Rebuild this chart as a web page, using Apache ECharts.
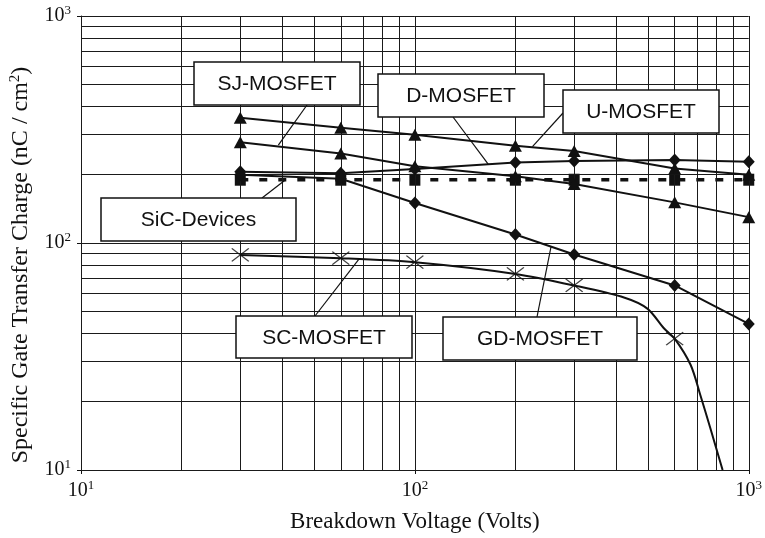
<!DOCTYPE html>
<html>
<head>
<meta charset="utf-8">
<script src="https://cdn.jsdelivr.net/npm/echarts@6/dist/echarts.min.js"></script>
<style>
  html, body { margin: 0; padding: 0; background: #fff; }
  #main { width: 765px; height: 538px; }
</style>
</head>
<body>
<div id="main"></div>
<script>
// breakdown voltages where the devices were compared
const voltages = [30, 60, 100, 200, 300, 600, 1000];
const uMosfet = [356, 322, 300, 268, 254, 213, 200];
const sjMosfet = [278, 248, 218, 197, 182, 151, 130];
const dMosfet = [206, 203, 212, 226, 230, 232, 228];
const gdMosfet = [200, 192, 150, 109, 89, 65, 44];
const sicDevices = [190, 190, 190, 190, 190, 190, 190];

// SC-MOSFET: X marks and the curve that runs through them
const scMarkV = [30, 60, 100, 200, 300, 600];
const scMarkQ = [88.6, 85.7, 82.3, 73.1, 65, 37.9];
const scCurveV = [30, 60, 100, 200, 300, 425, 497, 558, 600, 670, 716, 767, 835];
const scCurveQ = [88.6, 85.7, 82.3, 73.1, 65, 57.4, 51.4, 42, 37.9, 29, 21.4, 15.3, 10];

// log grid lines
const gridX = [10, 20, 30, 40, 50, 60, 70, 80, 90, 100, 200, 300, 400, 500, 600, 700, 800, 900, 1000];
const gridY = [10, 20, 30, 40, 50, 60, 70, 80, 90, 100, 200, 300, 400, 500, 600, 700, 800, 900, 1000];

const INK = '#111';
const SERIF = '"Liberation Serif", "DejaVu Serif", serif';
const SANS = '"Liberation Sans", Arial, sans-serif';

const pairs = (xs, ys) => xs.map((x, i) => [x, ys[i]]);

const powLabel = v => '{b|10}{s|' + Math.round(Math.log10(v)) + '}';
const powRich = {
  b: { fontFamily: SERIF, fontSize: 20, color: INK, lineHeight: 24 },
  s: { fontFamily: SERIF, fontSize: 13, color: INK, lineHeight: 14, verticalAlign: 'top' }
};

const chart = echarts.init(document.getElementById('main'));

const lineSeries = (name, data, symbol, size) => ({
  name,
  type: 'line',
  data: pairs(voltages, data),
  symbol,
  symbolSize: size,
  color: INK,
  lineStyle: { color: INK, width: 2 },
  itemStyle: { color: INK },
  z: 5
});

chart.setOption({
  animation: false,
  grid: { left: 79, right: 13, top: 16, bottom: 66 },
  xAxis: {
    type: 'log',
    logBase: 10,
    min: 10,
    max: 1000,
    name: 'Breakdown Voltage (Volts)',
    nameLocation: 'middle',
    nameGap: 40,
    nameTextStyle: { fontFamily: SERIF, fontSize: 23, color: INK },
    axisLine: { lineStyle: { color: INK, width: 1 } },
    axisTick: { length: 4, lineStyle: { color: INK } },
    axisLabel: { formatter: powLabel, rich: powRich, margin: 9 },
    splitLine: { show: false }
  },
  yAxis: {
    type: 'log',
    logBase: 10,
    min: 10,
    max: 1000,
    name: '{a|Specific Gate Transfer Charge (nC / cm}{s|2}{a|)}',
    nameLocation: 'middle',
    nameGap: 47,
    nameTextStyle: {
      padding: [0, 44, 0, 0],
      rich: {
        a: { fontFamily: SERIF, fontSize: 24, color: INK, lineHeight: 26 },
        s: { fontFamily: SERIF, fontSize: 15, color: INK, lineHeight: 15, verticalAlign: 'top' }
      }
    },
    axisLine: { show: true, lineStyle: { color: INK, width: 1 } },
    axisTick: { show: true, length: 4, lineStyle: { color: INK } },
    axisLabel: { formatter: powLabel, rich: powRich, margin: 10 },
    splitLine: { show: false }
  },
  series: [
    {
      name: 'grid',
      type: 'line',
      data: [[10, 10]],
      symbol: 'none',
      silent: true,
      z: 1,
      markLine: {
        silent: true,
        symbol: ['none', 'none'],
        label: { show: false },
        lineStyle: { color: '#1a1a1a', width: 1, type: 'solid' },
        emphasis: { disabled: true },
        data: gridX.map(v => ({ xAxis: v })).concat(gridY.map(v => ({ yAxis: v })))
      }
    },
    {
      name: 'SiC-Devices',
      type: 'line',
      data: pairs(voltages, sicDevices),
      symbol: 'rect',
      symbolSize: [11, 12],
      lineStyle: { color: INK, width: 3.5, type: [8, 11] },
      itemStyle: { color: INK },
      z: 4
    },
    lineSeries('U-MOSFET', uMosfet, 'triangle', [13, 12]),
    lineSeries('SJ-MOSFET', sjMosfet, 'triangle', [13, 12]),
    lineSeries('D-MOSFET', dMosfet, 'diamond', [12, 13]),
    lineSeries('GD-MOSFET', gdMosfet, 'diamond', [12, 13]),
    {
      name: 'SC-MOSFET curve',
      type: 'line',
      data: pairs(scCurveV, scCurveQ),
      symbol: 'none',
      smooth: 0.3,
      lineStyle: { color: INK, width: 2 },
      z: 5
    },
    {
      name: 'SC-MOSFET',
      type: 'scatter',
      data: pairs(scMarkV, scMarkQ),
      symbol: 'path://M0,0L17,13M17,0L0,13',
      symbolSize: [17, 13],
      itemStyle: { color: 'none', borderColor: INK, borderWidth: 1.3 },
      z: 6
    }
  ]
});

// label boxes (pixel layout) with pointers to a spot on each curve
const notes = [
  { text: 'SJ-MOSFET', box: [194, 62, 166, 43], from: [307, 105], to: [39, 270] },
  { text: 'D-MOSFET', box: [378, 74, 166, 43], from: [453, 117], to: [166, 222] },
  { text: 'U-MOSFET', box: [563, 90, 156, 43], from: [563, 113], to: [225, 266] },
  { text: 'SiC-Devices', box: [101, 198, 195, 43], from: [262, 198], to: [41, 190] },
  { text: 'SC-MOSFET', box: [236, 316, 176, 42], from: [315, 316], to: [68, 85] },
  { text: 'GD-MOSFET', box: [443, 317, 194, 43], from: [537, 317], to: [256, 97] }
];

const graphics = [];
notes.forEach(n => {
  const p = chart.convertToPixel({ gridIndex: 0 }, n.to);
  graphics.push({
    type: 'line', z: 50, silent: true,
    shape: { x1: n.from[0], y1: n.from[1], x2: p[0], y2: p[1] },
    style: { stroke: INK, lineWidth: 1.2 }
  });
  graphics.push({
    type: 'rect', z: 60, silent: true,
    shape: { x: n.box[0], y: n.box[1], width: n.box[2], height: n.box[3] },
    style: { fill: '#fff', stroke: INK, lineWidth: 1.5 }
  });
  graphics.push({
    type: 'text', z: 61, silent: true,
    x: n.box[0] + n.box[2] / 2,
    y: n.box[1] + n.box[3] / 2 + 1,
    style: {
      text: n.text, fill: INK, fontFamily: SANS, fontSize: 21,
      align: 'center', verticalAlign: 'middle'
    }
  });
});
chart.setOption({ graphic: graphics });
</script>
</body>
</html>
